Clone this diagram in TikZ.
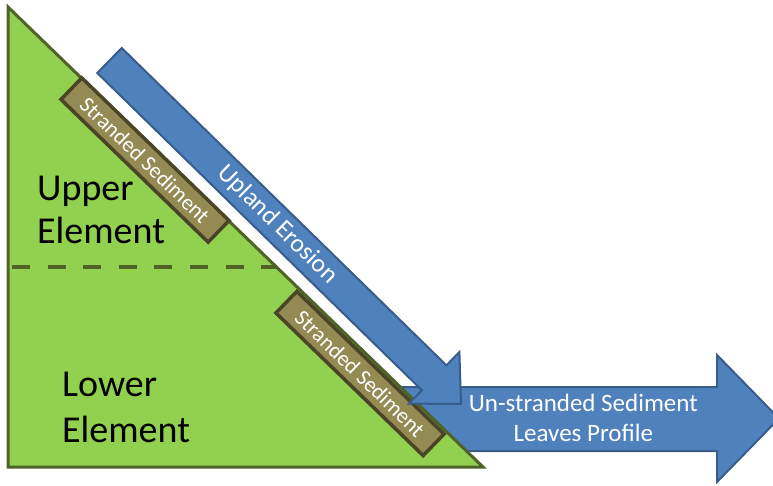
\documentclass[tikz,border=0pt]{standalone}
\usepackage{fontspec}
\setmainfont{Carlito}
\definecolor{trifill}{HTML}{92D050}
\definecolor{triline}{HTML}{4F6228}
\definecolor{bluefill}{HTML}{4F81BD}
\definecolor{blueline}{HTML}{385D8A}
\definecolor{sedfill}{HTML}{948A54}
\definecolor{sedline}{HTML}{4A4527}
\tikzset{
  tri/.style={fill=trifill, draw=triline, line width=3pt, line join=miter},
  divider/.style={draw=triline, line width=4pt, dash pattern=on 18pt off 17.6pt},
  arrowshape/.style={fill=bluefill, draw=blueline, line width=2pt, line join=miter},
  sedbox/.style={fill=sedfill, draw=sedline, line width=3.5pt, minimum width=205pt, minimum height=30pt, inner sep=0pt, text=white, font=\fontsize{22}{24}\selectfont},
  arrtext/.style={text=white, inner sep=0pt, font=\fontsize{25}{28}\selectfont},
  eltext/.style={text=black, inner sep=0pt, font=\fontsize{38}{42}\selectfont}
}
\begin{document}
\begin{tikzpicture}[x=1pt,y=-1pt]
\useasboundingbox (0,0) rectangle (773,485);
% horizontal arrow (behind the triangle)
\draw[arrowshape] (390,387) -- (717,387) -- (717,355) -- (779,418.5) -- (717,482) -- (717,451) -- (390,451) -- cycle;
\node[arrtext, anchor=base] (un1) at (583.3,411.7) {Un-stranded Sediment};
\node[arrtext, anchor=base] (un2) at (583.3,441.7) {Leaves Profile};
% triangle
\coordinate (apex) at (8,7);
\coordinate (corner) at (8,467);
\coordinate (toe) at (483,467);
\draw[tri] (apex) -- (corner) -- (toe) -- cycle;
% divider
\coordinate (dl) at (12,267);
\coordinate (dr) at (276.5,267);
\draw[divider] (dl) -- (dr);
% element labels
\node[eltext, anchor=base west] (up1) at (37,200.5) {Upper};
\node[eltext, anchor=base west] (up2) at (37,243.3) {Element};
\node[eltext, anchor=base west] (lo1) at (62,396.7) {Lower};
\node[eltext, anchor=base west] (lo2) at (62,442.7) {Element};
% stranded sediment boxes
\node[sedbox, rotate=-44.1] (sed1) at (145,160) {Stranded Sediment};
\node[sedbox, rotate=-44.1] (sed2) at (360,373.5) {Stranded Sediment};
% upland erosion arrow
\draw[arrowshape] (121.7,48.0) -- (446.4,365.3) -- (459.4,352.1) -- (461,404) -- (409.0,403.6) -- (422.0,390.3) -- (97.3,73.0) -- cycle;
\node[arrtext, rotate=-44.35, font=\fontsize{25.5}{28}\selectfont] (upl) at (277.6,224.7) {Upland Erosion};
\end{tikzpicture}
\end{document}
